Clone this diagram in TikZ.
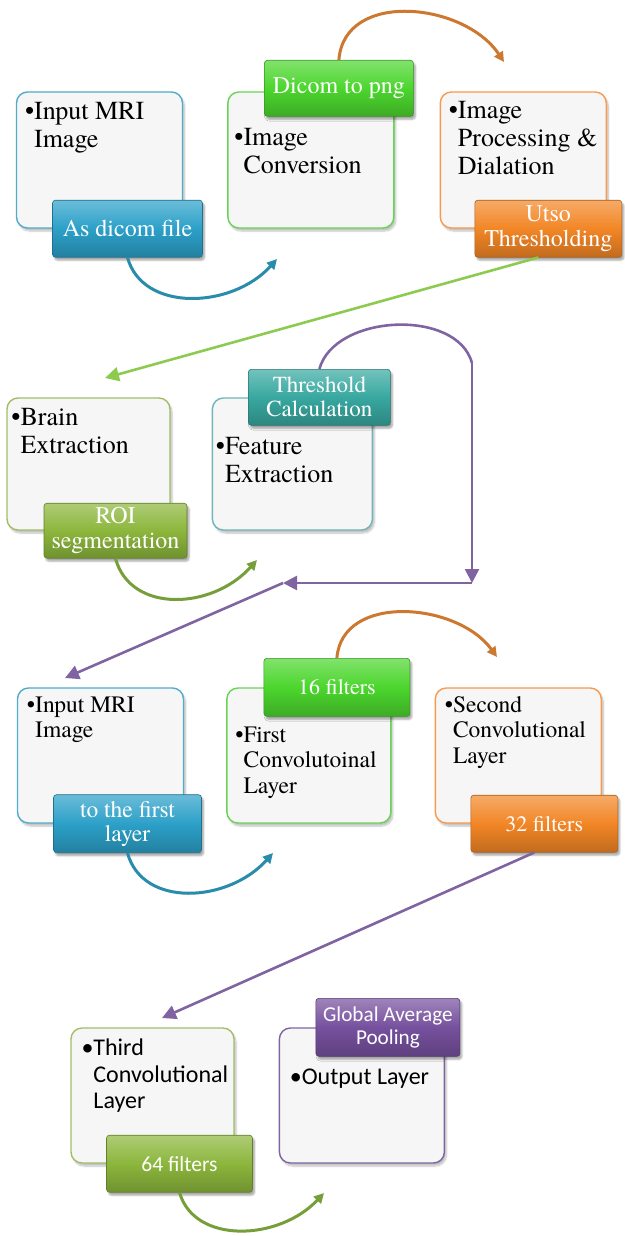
\documentclass[tikz,border=0pt]{standalone}
\usepackage{fontspec}
\setmainfont{TeX Gyre Termes}
\newfontfamily\termes{TeX Gyre Termes}
\newfontfamily\calib{Carlito}
\usetikzlibrary{positioning,arrows.meta,shadows.blur}

\definecolor{cardfill}{RGB}{246,246,246}
\definecolor{cblue}{RGB}{44,160,200}
\definecolor{cgreen}{RGB}{76,214,46}
\definecolor{corange}{RGB}{242,134,38}
\definecolor{cteal}{RGB}{56,168,160}
\definecolor{colive}{RGB}{140,182,60}
\definecolor{cpurple}{RGB}{118,80,158}
\definecolor{oblue}{RGB}{80,172,200}
\definecolor{ogreen}{RGB}{104,212,84}
\definecolor{oorange}{RGB}{246,154,80}
\definecolor{oteal}{RGB}{112,182,182}
\definecolor{oolive}{RGB}{160,190,100}
\definecolor{opurple}{RGB}{128,100,162}
\definecolor{ablue}{RGB}{40,140,170}
\definecolor{aorange}{RGB}{204,120,48}
\definecolor{aolive}{RGB}{118,158,58}
\definecolor{agreen}{RGB}{140,202,80}

\tikzset{
  panel/.style={draw=#1, line width=1.4pt, rounded corners=11pt, fill=cardfill,
    minimum width=166pt, minimum height=136pt, inner sep=0pt,
    blur shadow={shadow xshift=2pt, shadow yshift=-3pt, shadow opacity=25, shadow blur steps=6}},
  lbl/.style={draw=#1!70!black, line width=0.6pt, rounded corners=3pt,
    top color=#1!70!white, bottom color=#1!80!black, middle color=#1, text=white,
    minimum width=147pt, minimum height=57pt, inner sep=2pt, align=center,
    font=\termes\fontsize{24}{25}\selectfont,
    blur shadow={shadow xshift=2pt, shadow yshift=-3pt, shadow opacity=35, shadow blur steps=5}},
  body/.style={anchor=base west, inner sep=0pt, font=\termes\fontsize{26}{28}\selectfont},
  bend/.style={line width=3pt, draw=#1, -{Triangle[length=10pt,width=10pt]}},
  flow/.style={line width=2.6pt, draw=#1, -{Triangle[length=14pt,width=14pt]}},
}
\newcommand{\bul}[1]{\textbullet\begin{tabular}[t]{@{}l@{}}#1\end{tabular}}

\begin{document}
\begin{tikzpicture}[x=1pt,y=-1pt]
\useasboundingbox (0,0) rectangle (624,1236);

% row 1
\node[panel=oblue] (boxA) at (99.5,160) {};
\node[panel=ogreen, right=44pt of boxA] (boxB) {};
\node[panel=oorange, right=45pt of boxB] (boxC) {};
\node[body] (tA) at ([shift={(9pt,-28pt)}]boxA.north west) {\bul{Input MRI\\Image}};
\node[body] (tB) at ([shift={(7pt,-54pt)}]boxB.north west) {\bul{Image\\Conversion}};
\node[body] (tC) at ([shift={(9pt,-27pt)}]boxC.north west) {\bul{Image\\Processing \&\\Dialation}};
\node[lbl=cblue, minimum width=150pt] (lblA) at ([xshift=28pt]boxA.south) {As dicom file};
\node[lbl=cgreen, minimum width=149pt, minimum height=56pt] (lblB) at ([xshift=28pt,yshift=3pt]boxB.north) {Dicom to png};
\node[lbl=corange] (lblC) at ([xshift=25pt]boxC.south) {Utso\\Thresholding};

% row 2
\node[panel=oolive, minimum width=163pt, minimum height=132pt] (boxD) at (88.5,464) {};
\node[panel=oteal, minimum width=160pt, minimum height=132pt, right=41pt of boxD] (boxE) {};
\node[body] (tD) at ([shift={(5pt,-28pt)}]boxD.north west) {\bul{Brain\\Extraction}};
\node[body] (tE) at ([shift={(4pt,-57pt)}]boxE.north west) {\bul{Feature\\Extraction}};
\node[lbl=colive, minimum width=143pt, minimum height=55pt] (lblD) at ([xshift=27pt]boxD.south) {ROI\\segmentation};
\node[lbl=cteal, minimum width=142pt, minimum height=56pt, font=\termes\fontsize{23}{24}\selectfont] (lblE) at ([xshift=27pt]boxE.north) {Threshold\\Calculation};

% row 3
\node[panel=oblue, minimum height=135pt] (boxF) at (100.5,755.5) {};
\node[panel=ogreen, minimum width=164pt, minimum height=135pt, right=42pt of boxF] (boxG) {};
\node[panel=oorange, minimum height=135pt, right=43pt of boxG] (boxH) {};
\node[body, font=\termes\fontsize{23.5}{25.5}\selectfont] (tF) at ([shift={(10pt,-25pt)}]boxF.north west) {\bul{Input MRI\\Image}};
\node[body, font=\termes\fontsize{23.5}{25.5}\selectfont] (tG) at ([shift={(9pt,-55pt)}]boxG.north west) {\bul{First\\Convolutoinal\\Layer}};
\node[body, font=\termes\fontsize{23.5}{25.5}\selectfont] (tH) at ([shift={(10pt,-25pt)}]boxH.north west) {\bul{Second\\Convolutional\\Layer}};
\node[lbl=cblue, minimum width=148pt, minimum height=58pt, font=\termes\fontsize{23.5}{24}\selectfont] (lblF) at ([xshift=27pt]boxF.south) {to the first\\layer};
\node[lbl=cgreen, minimum width=146pt, minimum height=58pt, font=\termes\fontsize{22}{24}\selectfont] (lblG) at ([xshift=28pt]boxG.north) {16 filters};
\node[lbl=corange, font=\termes\fontsize{22}{24}\selectfont] (lblH) at ([xshift=26pt]boxH.south) {32 filters};

% row 4
\node[panel=oolive, minimum width=163pt, minimum height=135pt] (boxI) at (152.5,1095.5) {};
\node[panel=opurple, minimum width=165pt, minimum height=135pt, right=44pt of boxI] (boxJ) {};
\node[body, font=\calib\fontsize{24}{26.7}\selectfont] (tI) at ([shift={(11pt,-28pt)}]boxI.north west) {\bul{Third\\Convolutional\\Layer}};
\node[body, font=\calib\fontsize{24}{26.7}\selectfont] (tJ) at ([shift={(11pt,-57pt)}]boxJ.north west) {\bul{Output Layer}};
\node[lbl=colive, minimum width=146pt, font=\calib\fontsize{21.5}{23}\selectfont] (lblI) at ([xshift=27pt]boxI.south) {64 filters};
\node[lbl=cpurple, minimum width=144pt, minimum height=58pt, font=\calib\fontsize{21.2}{23}\selectfont] (lblJ) at ([xshift=26pt]boxJ.north) {Global Average\\Pooling};

% free ends of the connectors
\coordinate (endA) at (277,259);
\coordinate (endB) at (504,62);
\coordinate (tipD) at (105,378);
\coordinate (endD) at (257,560);
\coordinate (pA) at (472,363);
\coordinate (pB) at (472,583);
\coordinate (pC) at (283,583);
\coordinate (tipF) at (65,678);
\coordinate (endF) at (273,853);
\coordinate (endG) at (497,657);
\coordinate (tipI) at (162,1018);
\coordinate (endI) at (324,1193);

\draw[bend=ablue] (lblA.south) .. controls +(15,55) and +(-45,50) .. (endA);
\draw[bend=aorange] (lblB.north) .. controls +(5,-70) and +(-40,-60) .. (endB);
\draw[flow=agreen] ([xshift=-10pt]lblC.south) -- (tipD);
\draw[bend=aolive] (lblD.south) .. controls +(15,55) and +(-45,50) .. (endD);
\draw[line width=2.6pt, draw=opurple] (lblE.north) .. controls +(15,-55) and +(-15,-55) .. (pA);
\draw[flow=opurple] (pA) -- (pB);
\draw[flow=opurple] (pB) -- (pC);
\draw[flow=opurple] (pC) -- (tipF);
\draw[bend=ablue] (lblF.south) .. controls +(15,55) and +(-45,50) .. (endF);
\draw[bend=aorange] (lblG.north) .. controls +(5,-65) and +(-40,-55) .. (endG);
\draw[flow=opurple] ([xshift=-10pt]lblH.south) -- (tipI);
\draw[bend=aolive] (lblI.south) .. controls +(15,52) and +(-45,48) .. (endI);
\end{tikzpicture}
\end{document}
